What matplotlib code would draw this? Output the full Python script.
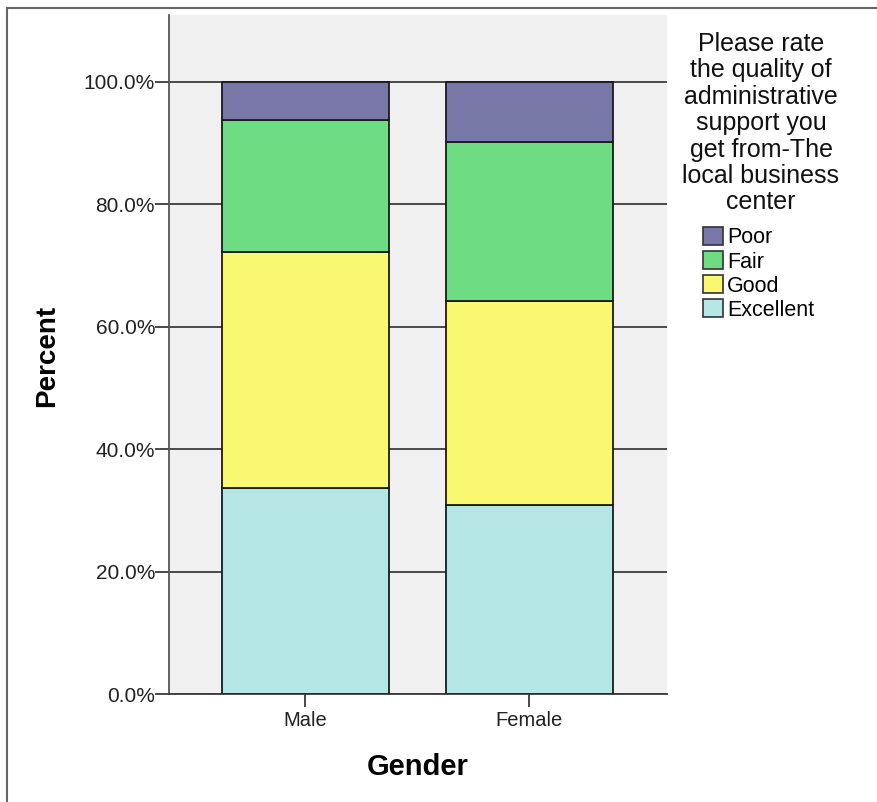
import matplotlib
matplotlib.use("Agg")
import matplotlib.pyplot as plt
from matplotlib.patches import Patch
from matplotlib.lines import Line2D
from matplotlib.ticker import FuncFormatter

plt.rcParams['font.family'] = ['Liberation Sans', 'DejaVu Sans']

genders = ["Male", "Female"]
ratings = ["Excellent", "Good", "Fair", "Poor"]
excellent = [33.7, 30.9]
good = [38.5, 33.3]
fair = [21.5, 26.0]
poor = [6.3, 9.8]
colors = {"Excellent": "#b4e6e6", "Good": "#faf870",
          "Fair": "#6edc82", "Poor": "#7878a8"}
yticks = [0, 20, 40, 60, 80, 100]
legend_title = ("Please rate\nthe quality of\nadministrative\nsupport you\n"
                "get from-The\nlocal business\ncenter")

W, H = 877, 802
fig = plt.figure(figsize=(W / 100, H / 100), dpi=100)
fig.patch.set_facecolor("white")

# plot area in pixel coordinates
left, right, top, bottom = 169, 667, 15, 694
ax = fig.add_axes([left / W, 1 - bottom / H, (right - left) / W, (bottom - top) / H])
ax.set_facecolor("#f0f0f0")

x = list(range(len(genders)))
series = {"Excellent": excellent, "Good": good, "Fair": fair, "Poor": poor}
base = [0.0] * len(genders)
for r in ratings:
    vals = series[r]
    ax.bar(x, vals, bottom=base, width=0.746, color=colors[r],
           edgecolor="#1a1a1a", linewidth=1.3, zorder=3)
    base = [b + v for b, v in zip(base, vals)]

ax.set_xlim(-0.609, 1.614)
ax.set_ylim(0, 110.9)
ax.set_yticks(yticks)
ax.yaxis.set_major_formatter(FuncFormatter(lambda v, p: f"{v:.1f}%"))
ax.set_xticks(x)
ax.set_xticklabels(genders)
ax.grid(axis="y", color="#3c3c3c", linewidth=1.3, zorder=1)
ax.set_axisbelow(True)

for s in ["top", "right"]:
    ax.spines[s].set_visible(False)
ax.spines["left"].set_color("#555555")
ax.spines["left"].set_linewidth(1.3)
ax.spines["bottom"].set_color("#3c3c3c")
ax.spines["bottom"].set_linewidth(1.3)
ax.tick_params(axis="y", length=10, width=1.3, color="#3c3c3c",
               labelsize=15, labelcolor="#222222", pad=0)
ax.tick_params(axis="x", length=9.5, width=1.3, color="#3c3c3c",
               labelsize=14.5, labelcolor="#222222", pad=3)

ax.set_ylabel("Percent", fontsize=20, fontweight="bold")
ax.yaxis.set_label_coords(47 / W, 1 - 356 / H, transform=fig.transFigure)
ax.set_xlabel("Gender", fontsize=21, fontweight="bold")
ax.xaxis.set_label_coords(418 / W, 1 - 767 / H, transform=fig.transFigure)
ax.xaxis.label.set_va("center")
ax.yaxis.label.set_va("center")

# outer frame (left and top edges)
fig.add_artist(Line2D([7 / W, 7 / W], [0, 1 - 8 / H], transform=fig.transFigure,
                      color="#666666", linewidth=1.5))
fig.add_artist(Line2D([7 / W, 1], [1 - 8 / H, 1 - 8 / H], transform=fig.transFigure,
                      color="#666666", linewidth=1.5))

# legend title and entries
fig.text(761 / W, 1 - 32 / H, legend_title, ha="center", va="top",
         fontsize=18, linespacing=1.125, color="#111111")
handles = [Patch(facecolor=colors[r], edgecolor="#333333", linewidth=1.2)
           for r in ratings[::-1]]
fig.legend(handles, ratings[::-1], loc="upper left",
           bbox_to_anchor=(703 / W, 1 - 227 / H), frameon=False,
           fontsize=15.5, handlelength=0.93, handleheight=0.9,
           handletextpad=0.2, labelspacing=0.13, borderaxespad=0,
           borderpad=0)

fig.savefig("out.png", dpi=100)
